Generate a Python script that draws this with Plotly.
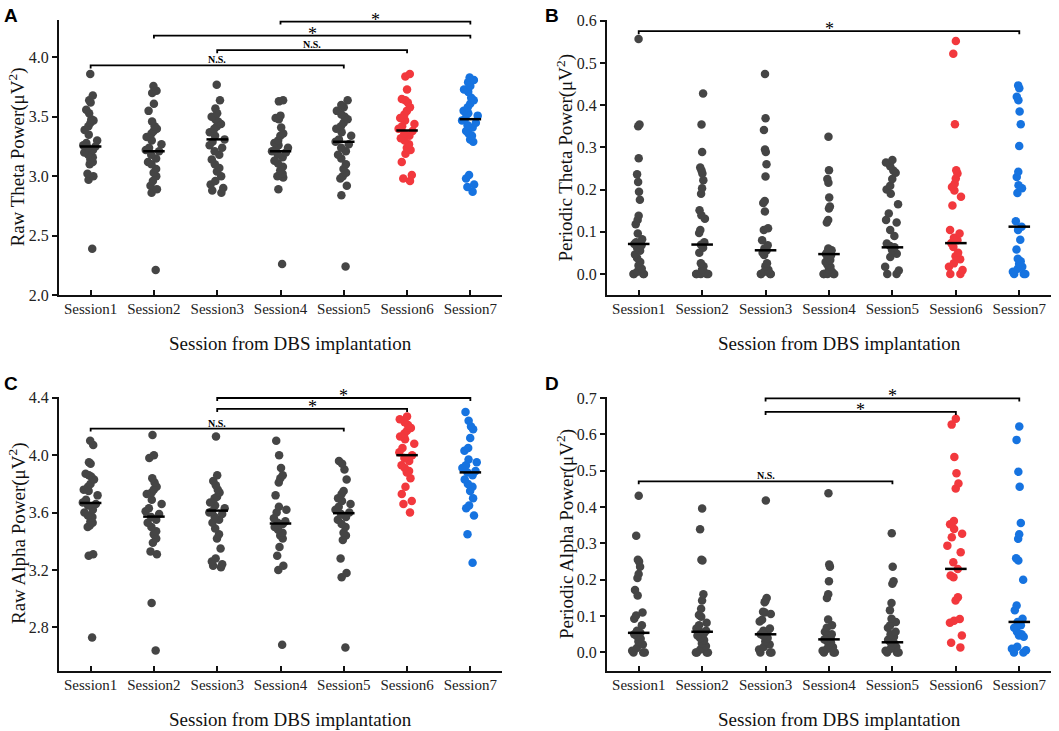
import plotly.graph_objects as go

sessions = ["Session1", "Session2", "Session3", "Session4", "Session5", "Session6", "Session7"]
positions = [1, 2, 3, 4, 5, 6, 7]
colors = ["#454545"] * 5 + ["#f2383d", "#1673e0"]

# panel A - raw theta
raw_theta = [
    [3.86, 3.68, 3.64, 3.62, 3.56, 3.53, 3.48, 3.47, 3.45, 3.42, 3.39, 3.35, 3.30, 3.28,
     3.26, 3.25, 3.24, 3.22, 3.20, 3.18, 3.16, 3.14, 3.12, 3.10, 3.02, 3.00, 2.97, 2.39],
    [3.76, 3.72, 3.70, 3.61, 3.55, 3.46, 3.42, 3.40, 3.38, 3.36, 3.33, 3.30, 3.27, 3.24,
     3.22, 3.21, 3.18, 3.15, 3.12, 3.10, 3.06, 3.03, 3.00, 2.96, 2.92, 2.89, 2.86, 2.21],
    [3.77, 3.64, 3.57, 3.53, 3.50, 3.48, 3.46, 3.44, 3.42, 3.40, 3.37, 3.34, 3.31, 3.29,
     3.26, 3.24, 3.21, 3.18, 3.14, 3.10, 3.07, 3.04, 3.00, 2.96, 2.93, 2.90, 2.88, 2.86],
    [3.64, 3.63, 3.51, 3.49, 3.48, 3.41, 3.36, 3.34, 3.30, 3.28, 3.26, 3.24, 3.22, 3.21,
     3.20, 3.18, 3.16, 3.13, 3.11, 3.08, 3.05, 3.02, 3.01, 3.00, 2.99, 2.89, 2.26],
    [3.64, 3.60, 3.58, 3.55, 3.52, 3.50, 3.48, 3.45, 3.42, 3.40, 3.37, 3.34, 3.31, 3.29,
     3.27, 3.24, 3.21, 3.18, 3.15, 3.10, 3.06, 3.03, 3.00, 2.98, 2.92, 2.84, 2.24],
    [3.86, 3.84, 3.73, 3.65, 3.64, 3.62, 3.58, 3.55, 3.52, 3.49, 3.47, 3.44, 3.42, 3.40,
     3.38, 3.36, 3.34, 3.32, 3.30, 3.27, 3.24, 3.22, 3.19, 3.12, 3.01, 2.98, 2.96],
    [3.83, 3.81, 3.79, 3.76, 3.73, 3.71, 3.66, 3.64, 3.61, 3.58, 3.55, 3.53, 3.51, 3.49,
     3.47, 3.45, 3.43, 3.41, 3.38, 3.36, 3.34, 3.31, 3.29, 3.01, 2.98, 2.93, 2.91, 2.87],
]
raw_theta_median = [3.25, 3.21, 3.31, 3.21, 3.29, 3.385, 3.48]

# panel B - periodic theta
per_theta = [
    [0.557, 0.354, 0.350, 0.274, 0.236, 0.218, 0.195, 0.176, 0.138, 0.128, 0.118, 0.096, 0.082, 0.075,
     0.071, 0.068, 0.062, 0.055, 0.046, 0.038, 0.028, 0.020, 0.012, 0.005, 0.0, 0.0, 0.0, 0.0],
    [0.428, 0.354, 0.289, 0.252, 0.245, 0.238, 0.222, 0.203, 0.190, 0.151, 0.139, 0.131, 0.104, 0.097,
     0.075, 0.069, 0.062, 0.050, 0.025, 0.018, 0.010, 0.003, 0.0, 0.0, 0.0, 0.0, 0.0],
    [0.474, 0.369, 0.341, 0.295, 0.289, 0.260, 0.231, 0.173, 0.168, 0.148, 0.108, 0.104, 0.080, 0.068,
     0.060, 0.056, 0.050, 0.045, 0.025, 0.018, 0.010, 0.005, 0.0, 0.0, 0.0, 0.0],
    [0.325, 0.246, 0.225, 0.216, 0.181, 0.160, 0.155, 0.128, 0.122, 0.060, 0.056, 0.052, 0.047, 0.044,
     0.040, 0.033, 0.028, 0.022, 0.017, 0.010, 0.005, 0.0, 0.0, 0.0, 0.0, 0.0],
    [0.270, 0.264, 0.255, 0.245, 0.240, 0.225, 0.209, 0.200, 0.190, 0.165, 0.143, 0.128, 0.122, 0.104,
     0.090, 0.072, 0.066, 0.063, 0.056, 0.048, 0.040, 0.017, 0.008, 0.0, 0.0],
    [0.552, 0.522, 0.355, 0.246, 0.238, 0.226, 0.214, 0.206, 0.198, 0.183, 0.162, 0.104, 0.096, 0.086,
     0.080, 0.073, 0.064, 0.050, 0.042, 0.035, 0.025, 0.017, 0.009, 0.0, 0.0],
    [0.447, 0.440, 0.420, 0.412, 0.385, 0.355, 0.303, 0.242, 0.230, 0.210, 0.203, 0.192, 0.125, 0.112,
     0.104, 0.081, 0.058, 0.036, 0.030, 0.024, 0.017, 0.012, 0.005, 0.0, 0.0, 0.0],
]
per_theta_median = [0.071, 0.0696, 0.056, 0.047, 0.063, 0.073, 0.112]

# panel C - raw alpha
raw_alpha = [
    [4.10, 4.07, 3.95, 3.94, 3.87, 3.86, 3.85, 3.83, 3.80, 3.78, 3.76, 3.75, 3.72, 3.69,
     3.67, 3.66, 3.65, 3.62, 3.60, 3.58, 3.57, 3.54, 3.53, 3.51, 3.50, 3.31, 3.30, 2.73],
    [4.14, 4.00, 3.98, 3.84, 3.81, 3.78, 3.76, 3.74, 3.73, 3.69, 3.66, 3.63, 3.61, 3.59,
     3.57, 3.55, 3.53, 3.50, 3.47, 3.45, 3.42, 3.39, 3.33, 3.31, 2.97, 2.64],
    [4.13, 3.86, 3.82, 3.79, 3.76, 3.74, 3.71, 3.70, 3.67, 3.65, 3.63, 3.61, 3.60, 3.59,
     3.57, 3.55, 3.53, 3.49, 3.45, 3.42, 3.35, 3.28, 3.26, 3.24, 3.23, 3.22],
    [4.10, 4.00, 3.91, 3.86, 3.84, 3.81, 3.72, 3.64, 3.62, 3.60, 3.56, 3.54, 3.53, 3.52,
     3.50, 3.48, 3.46, 3.44, 3.42, 3.36, 3.30, 3.23, 3.20, 2.68],
    [3.96, 3.94, 3.90, 3.83, 3.75, 3.73, 3.70, 3.68, 3.66, 3.64, 3.62, 3.60, 3.59, 3.57,
     3.55, 3.52, 3.50, 3.46, 3.44, 3.41, 3.28, 3.18, 3.15, 2.66],
    [4.27, 4.25, 4.23, 4.21, 4.19, 4.17, 4.15, 4.13, 4.11, 4.08, 4.05, 4.02, 4.00, 3.98,
     3.96, 3.93, 3.91, 3.89, 3.88, 3.84, 3.78, 3.73, 3.68, 3.66, 3.60],
    [4.30, 4.24, 4.20, 4.18, 4.12, 4.05, 4.03, 3.97, 3.95, 3.93, 3.91, 3.89, 3.88, 3.86,
     3.83, 3.80, 3.78, 3.75, 3.70, 3.65, 3.63, 3.58, 3.45, 3.25],
]
raw_alpha_median = [3.667, 3.572, 3.614, 3.524, 3.596, 4.0, 3.88]

# panel D - periodic alpha
per_alpha = [
    [0.431, 0.321, 0.255, 0.250, 0.236, 0.216, 0.205, 0.172, 0.157, 0.110, 0.102, 0.093, 0.075,
     0.060, 0.054, 0.050, 0.045, 0.038, 0.030, 0.022, 0.012, 0.005, 0.0, 0.0, 0.0],
    [0.396, 0.339, 0.255, 0.253, 0.160, 0.143, 0.120, 0.103, 0.098, 0.082, 0.075, 0.066, 0.060,
     0.057, 0.052, 0.047, 0.040, 0.034, 0.025, 0.018, 0.008, 0.0, 0.0, 0.0, 0.0],
    [0.418, 0.150, 0.142, 0.138, 0.112, 0.110, 0.106, 0.090, 0.085, 0.066, 0.060, 0.055, 0.050,
     0.046, 0.040, 0.030, 0.022, 0.015, 0.008, 0.0, 0.0, 0.0],
    [0.438, 0.242, 0.236, 0.196, 0.160, 0.150, 0.091, 0.075, 0.068, 0.057, 0.050, 0.045, 0.040,
     0.036, 0.032, 0.028, 0.022, 0.015, 0.010, 0.005, 0.0, 0.0, 0.0],
    [0.328, 0.236, 0.196, 0.189, 0.136, 0.116, 0.093, 0.084, 0.075, 0.068, 0.057, 0.050, 0.043,
     0.035, 0.028, 0.025, 0.020, 0.015, 0.010, 0.005, 0.0, 0.0, 0.0],
    [0.643, 0.627, 0.538, 0.493, 0.465, 0.451, 0.362, 0.353, 0.340, 0.327, 0.317, 0.294, 0.276,
     0.248, 0.230, 0.212, 0.207, 0.152, 0.143, 0.092, 0.087, 0.082, 0.047, 0.027, 0.014],
    [0.622, 0.585, 0.497, 0.456, 0.356, 0.325, 0.313, 0.259, 0.253, 0.200, 0.129, 0.116, 0.093,
     0.084, 0.075, 0.068, 0.057, 0.050, 0.047, 0.043, 0.016, 0.010, 0.006, 0.0, 0.0],
]
per_alpha_median = [0.054, 0.057, 0.050, 0.036, 0.028, 0.230, 0.084]

# significance brackets: (from session, to session, height, label)
brackets_a = [(4, 7, 4.302, "*"), (2, 7, 4.184, "*"), (3, 6, 4.061, "N.S."), (1, 5, 3.933, "N.S.")]
brackets_b = [(1, 7, 0.5755, "*")]
brackets_c = [(3, 7, 4.398, "*"), (3, 6, 4.322, "*"), (1, 5, 4.185, "N.S.")]
brackets_d = [(3, 7, 0.699, "*"), (3, 6, 0.662, "*"), (1, 5, 0.471, "N.S.")]

y_titles = ["Raw Theta Power(μV<sup>2</sup>)", "Periodic Theta Power(μV<sup>2</sup>)",
            "Raw Alpha Power(μV<sup>2</sup>)", "Periodic Alpha Power(μV<sup>2</sup>)"]
panel_letters = ["A", "B", "C", "D"]

W, H = 1059, 731
SERIF = "Liberation Serif, Times New Roman, serif"

panels = [
    dict(data=raw_theta, med=raw_theta_median, br=brackets_a, rng=[2.0, 4.315],
         ticks=[2.0, 2.5, 3.0, 3.5, 4.0], left=59, right=502, top=20, bottom=295),
    dict(data=per_theta, med=per_theta_median, br=brackets_b, rng=[-0.05, 0.602],
         ticks=[0.0, 0.1, 0.2, 0.3, 0.4, 0.5, 0.6], left=607, right=1051, top=20, bottom=295),
    dict(data=raw_alpha, med=raw_alpha_median, br=brackets_c, rng=[2.497, 4.405],
         ticks=[2.8, 3.2, 3.6, 4.0, 4.4], left=59, right=502, top=397, bottom=671),
    dict(data=per_alpha, med=per_alpha_median, br=brackets_d, rng=[-0.051, 0.703],
         ticks=[0.0, 0.1, 0.2, 0.3, 0.4, 0.5, 0.6, 0.7], left=607, right=1051, top=397, bottom=671),
]

fig = go.Figure()
annotations = []

for k, p in enumerate(panels):
    n = k + 1
    xa = "x" if n == 1 else "x%d" % n
    ya = "y" if n == 1 else "y%d" % n
    span = p["rng"][1] - p["rng"][0]

    # jittered points
    for i, vals in enumerate(p["data"]):
        fig.add_trace(go.Box(
            x=[positions[i]] * len(vals), y=vals, xaxis=xa, yaxis=ya,
            boxpoints="all", jitter=0.55, pointpos=0, width=0.5,
            fillcolor="rgba(0,0,0,0)", line=dict(color="rgba(0,0,0,0)", width=0),
            marker=dict(color=colors[i], size=8.5, line=dict(width=0)),
            showlegend=False, hoverinfo="y"))

    # median lines
    mx, my = [], []
    for i, m in enumerate(p["med"]):
        mx += [positions[i] - 0.17, positions[i] + 0.17, None]
        my += [m, m, None]
    fig.add_trace(go.Scatter(x=mx, y=my, xaxis=xa, yaxis=ya, mode="lines",
                             line=dict(color="black", width=2.5), showlegend=False, hoverinfo="skip"))

    # brackets
    bx, by = [], []
    tick = 0.011 * span
    for a, b, h, lab in p["br"]:
        bx += [a, a, b, b, None]
        by += [h - tick, h, h, h - tick, None]
        if lab == "*":
            annotations.append(dict(x=(a + b) / 2, y=h, xref=xa, yref=ya, text="*", showarrow=False,
                                    xanchor="center", yanchor="bottom", yshift=-10,
                                    font=dict(family=SERIF, size=18, color="black")))
        else:
            annotations.append(dict(x=(a + b) / 2, y=h, xref=xa, yref=ya, text="<b>N.S.</b>", showarrow=False,
                                    xanchor="center", yanchor="bottom", yshift=-2,
                                    font=dict(family=SERIF, size=10, color="black")))
    fig.add_trace(go.Scatter(x=bx, y=by, xaxis=xa, yaxis=ya, mode="lines",
                             line=dict(color="black", width=1.8), showlegend=False, hoverinfo="skip"))

    axis_common = dict(showline=True, linecolor="#111", linewidth=2, showgrid=False, zeroline=False,
                       tickwidth=2, ticklen=5, tickcolor="#111", automargin=False,
                       tickfont=dict(family=SERIF, size=15, color="#222"))
    fig.layout["xaxis" if n == 1 else "xaxis%d" % n] = dict(
        axis_common, domain=[p["left"] / W, p["right"] / W], anchor=ya, range=[0.5, 7.5],
        tickvals=positions, ticktext=sessions, ticks="inside", ticklabelstandoff=-1)
    fig.layout["yaxis" if n == 1 else "yaxis%d" % n] = dict(
        axis_common, domain=[1 - p["bottom"] / H, 1 - p["top"] / H], anchor=xa, range=p["rng"],
        tickvals=p["ticks"], tickformat=".1f", ticks="outside", tickfont=dict(family=SERIF, size=16, color="#222"))

    # axis titles and panel letter
    xc = 290 if p["left"] < 300 else 839
    annotations.append(dict(x=xc / W, y=1 - (p["bottom"] + 48) / H, xref="paper", yref="paper",
                            xanchor="center", yanchor="middle",
                            text="Session from DBS implantation", showarrow=False,
                            font=dict(family=SERIF, size=19, color="#111")))
    ytx = 17 if p["left"] < 300 else 565
    annotations.append(dict(x=ytx / W, y=1 - (p["top"] + p["bottom"]) / 2 / H, xref="paper", yref="paper",
                            xanchor="center", yanchor="middle",
                            text=y_titles[k], textangle=-90, showarrow=False,
                            font=dict(family=SERIF, size=19, color="#111")))
    lx = 2 if p["left"] < 300 else 543
    ly = 3 if p["top"] < 100 else 371
    annotations.append(dict(x=lx / W, y=1 - ly / H, xref="paper", yref="paper", xanchor="left", yanchor="top",
                            text="<b>%s</b>" % panel_letters[k], showarrow=False,
                            font=dict(family="Liberation Sans, Arial, sans-serif", size=19, color="black")))

fig.update_layout(width=W, height=H, margin=dict(l=0, r=0, t=0, b=0, pad=0, autoexpand=False),
                  paper_bgcolor="white", plot_bgcolor="white",
                  annotations=annotations, boxmode="overlay")

fig.write_html("out.html", config={"displayModeBar": False},
               post_script="document.body.style.margin='0';")
